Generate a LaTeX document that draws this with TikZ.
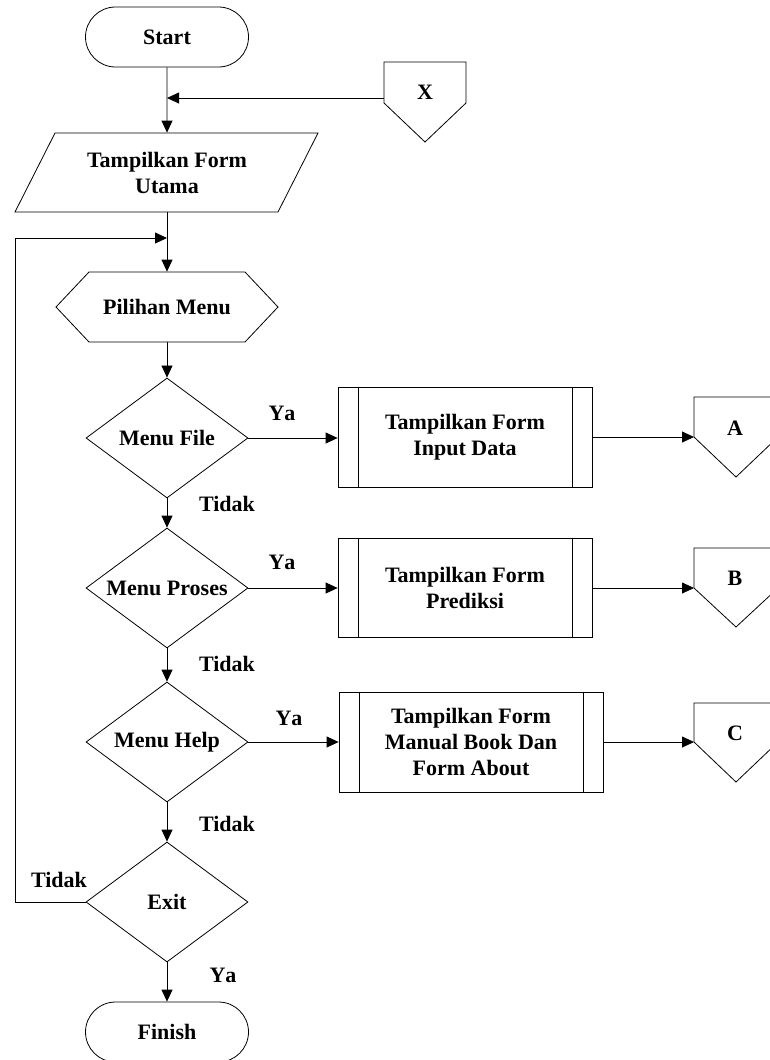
\documentclass[tikz,border=0pt]{standalone}
\usepackage{fontspec}
\setmainfont{Liberation Serif}
\usetikzlibrary{arrows.meta,shapes.geometric,shapes.misc}
\begin{document}
\begin{tikzpicture}[x=1pt,y=-1pt,
  font=\bfseries\fontsize{22}{26}\selectfont,
  line width=0.8pt,
  >={Triangle[length=12pt,width=11pt]},
  term/.style={draw, rounded rectangle, minimum width=163pt, minimum height=60pt, inner sep=0pt},
  dec/.style={draw, diamond, minimum width=162pt, minimum height=120pt, inner sep=0pt, aspect=1.35},
  ghost/.style={inner sep=0pt, align=center},
  sub/.style={draw, rectangle, inner sep=0pt, align=center},
  lab/.style={inner sep=0pt}]
\useasboundingbox (0,0) rectangle (770,1060);
\clip (0,0) rectangle (770,1060);

% terminals
\node[term] (start) at (167,37) {Start};
\node[term] (finish) at (167,1032) {Finish};

% parallelogram
\draw (55,133) -- (318,133) -- (278,212) -- (15,212) -- cycle;
\node[ghost, minimum width=200pt, minimum height=79pt] (form) at (167,172.5) {Tampilkan Form\\Utama};

% hexagon
\draw (56,307) -- (89,272) -- (245,272) -- (278,307) -- (245,342) -- (89,342) -- cycle;
\node[ghost, minimum width=222pt, minimum height=70pt] (menu) at (167,307) {Pilihan Menu};

% decisions
\node[dec] (dfile) at (167,438) {Menu File};
\node[dec] (dproses) at (167,588) {Menu Proses};
\node[dec] (dhelp) at (167,742) {Menu Help};
\node[dec] (dexit) at (167,902) {Exit};

% subprocesses
\node[sub, minimum width=254pt, minimum height=100pt] (pfile) at (465,437) {Tampilkan Form\\Input Data};
\node[sub, minimum width=254pt, minimum height=99pt] (pproses) at (465,587.5) {Tampilkan Form\\Prediksi};
\node[sub, minimum width=264pt, minimum height=100pt] (phelp) at (471,742) {Tampilkan Form\\Manual Book Dan\\Form About};
\foreach \p in {pfile,pproses,phelp}{
  \draw ([xshift=21pt]\p.north west) -- ([xshift=21pt]\p.south west);
  \draw ([xshift=-20pt]\p.north east) -- ([xshift=-20pt]\p.south east);
}

% off-page connectors
\draw (384,62) -- (466,62) -- (466,103) -- (425,142) -- (384,103) -- cycle;
\node[lab] (cx) at (425,92) {X};
\coordinate (xout) at (384,98);

\draw (694,397) -- (778,397) -- (778,437) -- (736,477) -- (694,437) -- cycle;
\node[lab] (cat) at (735,428) {A};
\coordinate (ca) at (694,437);

\draw (694,548) -- (778,548) -- (778,588) -- (736,627) -- (694,588) -- cycle;
\node[lab] (cbt) at (735,578) {B};
\coordinate (cb) at (694,588);

\draw (694,703) -- (778,703) -- (778,742) -- (736,782) -- (694,742) -- cycle;
\node[lab] (cct) at (735,733) {C};
\coordinate (cc) at (694,742);

% connectors
\draw[->] (start) -- (form);
\draw[->] (xout) -- (xout -| start);
\draw[->] (form) -- (menu);
\draw[->] (menu) -- (dfile);
\draw[->] (dfile) -- (dproses);
\draw[->] (dproses) -- (dhelp);
\draw[->] (dhelp) -- (dexit);
\draw[->] (dexit) -- (finish);

\draw[->] (dfile.east) -- (dfile.east -| pfile.west);
\draw[->] (dproses.east) -- (dproses.east -| pproses.west);
\draw[->] (dhelp.east) -- (dhelp.east -| phelp.west);
\draw[->] (pfile.east |- ca) -- (ca);
\draw[->] (pproses.east |- cb) -- (cb);
\draw[->] (phelp.east |- cc) -- (cc);

\coordinate (lc) at (15,238);
\coordinate (j2) at (167,238);
\draw[->] (dexit.west) -| (lc) -- (j2);

% labels
\node[lab] at (282,413) {Y\kern0pt a};
\node[lab] at (227,504) {Tidak};
\node[lab] at (282,562) {Y\kern0pt a};
\node[lab] at (227,664) {Tidak};
\node[lab] at (289,718) {Y\kern0pt a};
\node[lab] at (227,824) {Tidak};
\node[lab] at (59,880) {Tidak};
\node[lab] at (223,975) {Y\kern0pt a};
\end{tikzpicture}
\end{document}
